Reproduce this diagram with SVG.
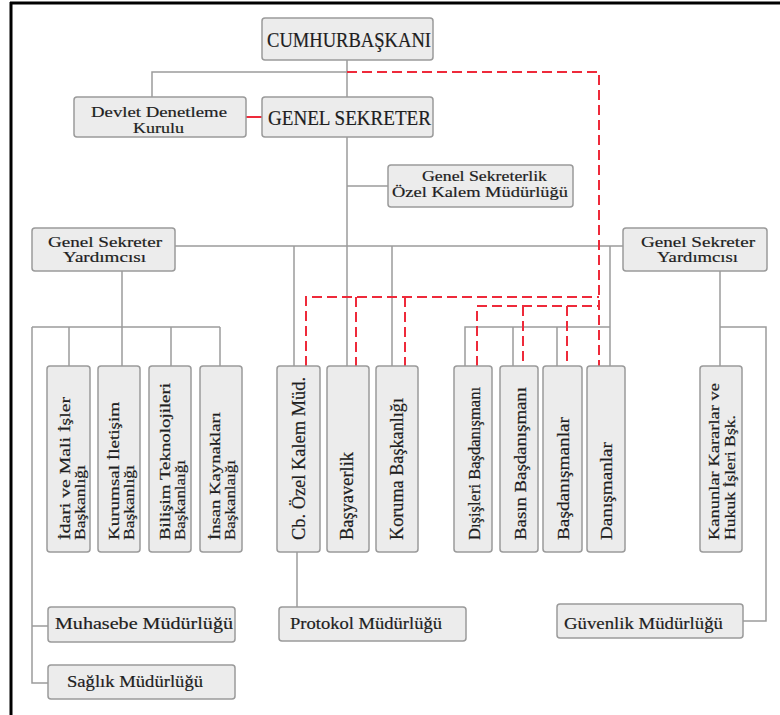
<svg xmlns="http://www.w3.org/2000/svg" width="780" height="715" viewBox="0 0 780 715">
  <style>
    .box { fill: #ececec; stroke: #9a9a9a; stroke-width: 1.5; }
    .t { font-family: "Liberation Serif", "DejaVu Serif", serif; fill: #1e1e1e; stroke: #1e1e1e; stroke-width: 0.2; }
    .link { fill: none; stroke: #9c9c9c; stroke-width: 1.5; }
    .rel { fill: none; stroke: #ee2a3a; stroke-width: 2; stroke-dasharray: 10 5; }
    .rel-solid { fill: none; stroke: #ee2a3a; stroke-width: 2; }
    .frame { stroke: #000; stroke-width: 3; }
  </style>
  <rect width="780" height="715" fill="#fff"/>
  <!-- frame edges -->
  <line class="frame" x1="11" y1="2" x2="11" y2="715"/>
  <line class="frame" x1="10" y1="3" x2="780" y2="3"/>

  <!-- connectors -->
  <g id="connectors">
    <path class="link" d="M347,60 V97 M152,97 V72 H347 M347,137 V366 M347,186 H388"/>
    <path class="link" d="M175,246 H623 M294,246 V366 M392,246 V366 M610,246 V366"/>
    <path class="link" d="M465,366 V327 H610 M513,327 V366 M557,327 V366"/>
    <path class="link" d="M122,271 V366 M32,327 H220 M69,327 V366 M171,327 V366 M220,327 V366"/>
    <path class="link" d="M32,327 V683 H48 M32,626 H48"/>
    <path class="link" d="M297,552 V607"/>
    <path class="link" d="M720,271 V366 M720,327 H766 V621 H743"/>
    <path class="rel-solid" d="M246,117 H262"/>
    <path class="rel" d="M347,72 H599 V366"/>
    <path class="rel" d="M306,366 V297 H599 M356,297 V366 M405,297 V366"/>
    <path class="rel" d="M477,366 V306 H599 M523,306 V366 M567,306 V366"/>
  </g>

  <g id="cumhurbaskani">
    <rect class="box" x="262" y="18" width="171" height="42" rx="3"/>
    <text class="t" x="267" y="47" font-size="22" textLength="164" lengthAdjust="spacingAndGlyphs">CUMHURBAŞKANI</text>
  </g>
  <g id="genel-sekreter">
    <rect class="box" x="262" y="97" width="171" height="40" rx="3"/>
    <text class="t" x="268" y="125" font-size="21" textLength="163" lengthAdjust="spacingAndGlyphs">GENEL SEKRETER</text>
  </g>
  <g id="devlet-denetleme">
    <rect class="box" x="74" y="97" width="172" height="40" rx="3"/>
    <text class="t" x="91" y="117" font-size="15" textLength="136" lengthAdjust="spacingAndGlyphs">Devlet Denetleme</text>
    <text class="t" x="133" y="133" font-size="15" textLength="51" lengthAdjust="spacingAndGlyphs">Kurulu</text>
  </g>
  <g id="ozel-kalem-gs">
    <rect class="box" x="388" y="165" width="185" height="42" rx="3"/>
    <text class="t" x="422" y="181" font-size="15" textLength="125" lengthAdjust="spacingAndGlyphs">Genel Sekreterlik</text>
    <text class="t" x="392" y="197" font-size="15" textLength="176" lengthAdjust="spacingAndGlyphs">Özel Kalem Müdürlüğü</text>
  </g>
  <g id="gs-yardimcisi-sol">
    <rect class="box" x="32" y="228" width="143" height="43" rx="3"/>
    <text class="t" x="48" y="247" font-size="15" textLength="114" lengthAdjust="spacingAndGlyphs">Genel Sekreter</text>
    <text class="t" x="63" y="262" font-size="15" textLength="83" lengthAdjust="spacingAndGlyphs">Yardımcısı</text>
  </g>
  <g id="gs-yardimcisi-sag">
    <rect class="box" x="623" y="228" width="144" height="43" rx="3"/>
    <text class="t" x="641" y="247" font-size="15" textLength="114" lengthAdjust="spacingAndGlyphs">Genel Sekreter</text>
    <text class="t" x="657" y="262" font-size="15" textLength="81" lengthAdjust="spacingAndGlyphs">Yardımcısı</text>
  </g>

  <!-- left branch -->
  <g id="idari-mali">
    <rect class="box" x="47" y="366" width="43" height="186" rx="3"/>
    <text class="t" transform="translate(70,540) rotate(-90)" font-size="14" textLength="143" lengthAdjust="spacingAndGlyphs">İdari ve Mali  İşler</text>
    <text class="t" transform="translate(85,540) rotate(-90)" font-size="14" textLength="75" lengthAdjust="spacingAndGlyphs">Başkanlığı</text>
  </g>
  <g id="kurumsal-iletisim">
    <rect class="box" x="98" y="366" width="42" height="186" rx="3"/>
    <text class="t" transform="translate(119,540) rotate(-90)" font-size="14" textLength="138" lengthAdjust="spacingAndGlyphs">Kurumsal İletişim</text>
    <text class="t" transform="translate(134,540) rotate(-90)" font-size="14" textLength="75" lengthAdjust="spacingAndGlyphs">Başkanlığı</text>
  </g>
  <g id="bilisim">
    <rect class="box" x="149" y="366" width="42" height="186" rx="3"/>
    <text class="t" transform="translate(170,540) rotate(-90)" font-size="14" textLength="157" lengthAdjust="spacingAndGlyphs">Bilişim Teknolojileri</text>
    <text class="t" transform="translate(185,540) rotate(-90)" font-size="14" textLength="80" lengthAdjust="spacingAndGlyphs">Başkanlaığı</text>
  </g>
  <g id="insan-kaynaklari">
    <rect class="box" x="200" y="366" width="42" height="186" rx="3"/>
    <text class="t" transform="translate(220,540) rotate(-90)" font-size="14" textLength="128" lengthAdjust="spacingAndGlyphs">İnsan Kaynakları</text>
    <text class="t" transform="translate(235,540) rotate(-90)" font-size="14" textLength="80" lengthAdjust="spacingAndGlyphs">Başkanlaığı</text>
  </g>
  <g id="muhasebe">
    <rect class="box" x="48" y="607" width="187" height="35" rx="3"/>
    <text class="t" x="55" y="629" font-size="17" textLength="178" lengthAdjust="spacingAndGlyphs">Muhasebe Müdürlüğü</text>
  </g>
  <g id="saglik">
    <rect class="box" x="48" y="665" width="187" height="34" rx="3"/>
    <text class="t" x="67" y="687" font-size="17" textLength="136" lengthAdjust="spacingAndGlyphs">Sağlık Müdürlüğü</text>
  </g>

  <!-- middle branch -->
  <g id="cb-ozel-kalem">
    <rect class="box" x="277" y="366" width="43" height="186" rx="3"/>
    <text class="t" transform="translate(305,540) rotate(-90)" font-size="19" textLength="163" lengthAdjust="spacingAndGlyphs">Cb. Özel Kalem Müd.</text>
  </g>
  <g id="basyaverlik">
    <rect class="box" x="327" y="366" width="42" height="186" rx="3"/>
    <text class="t" transform="translate(353,540) rotate(-90)" font-size="18" textLength="88" lengthAdjust="spacingAndGlyphs">Başyaverlik</text>
  </g>
  <g id="koruma">
    <rect class="box" x="376" y="366" width="42" height="186" rx="3"/>
    <text class="t" transform="translate(403,540) rotate(-90)" font-size="18" textLength="142" lengthAdjust="spacingAndGlyphs">Koruma Başkanlığı</text>
  </g>
  <g id="protokol">
    <rect class="box" x="279" y="607" width="187" height="34" rx="3"/>
    <text class="t" x="290" y="629" font-size="16" textLength="152" lengthAdjust="spacingAndGlyphs">Protokol Müdürlüğü</text>
  </g>

  <!-- advisers -->
  <g id="disisleri">
    <rect class="box" x="454" y="366" width="38" height="186" rx="3"/>
    <text class="t" transform="translate(480,540) rotate(-90)" font-size="16" textLength="153" lengthAdjust="spacingAndGlyphs">Dışişleri Başdanışmanı</text>
  </g>
  <g id="basin">
    <rect class="box" x="500" y="366" width="38" height="186" rx="3"/>
    <text class="t" transform="translate(526,540) rotate(-90)" font-size="16" textLength="153" lengthAdjust="spacingAndGlyphs">Basın  Başdanışmanı</text>
  </g>
  <g id="basdanismanlar">
    <rect class="box" x="543" y="366" width="39" height="186" rx="3"/>
    <text class="t" transform="translate(569,540) rotate(-90)" font-size="16" textLength="123" lengthAdjust="spacingAndGlyphs">Başdanışmanlar</text>
  </g>
  <g id="danismanlar">
    <rect class="box" x="587" y="366" width="38" height="186" rx="3"/>
    <text class="t" transform="translate(612,540) rotate(-90)" font-size="16" textLength="98" lengthAdjust="spacingAndGlyphs">Danışmanlar</text>
  </g>

  <!-- right branch -->
  <g id="kanunlar-kararlar">
    <rect class="box" x="700" y="366" width="42" height="186" rx="3"/>
    <text class="t" transform="translate(719,540) rotate(-90)" font-size="15" textLength="157" lengthAdjust="spacingAndGlyphs">Kanunlar Kararlar ve</text>
    <text class="t" transform="translate(735,540) rotate(-90)" font-size="15" textLength="125" lengthAdjust="spacingAndGlyphs">Hukuk İşleri Bşk.</text>
  </g>
  <g id="guvenlik">
    <rect class="box" x="557" y="604" width="186" height="34" rx="3"/>
    <text class="t" x="564" y="629" font-size="17" textLength="159" lengthAdjust="spacingAndGlyphs">Güvenlik Müdürlüğü</text>
  </g>
</svg>
